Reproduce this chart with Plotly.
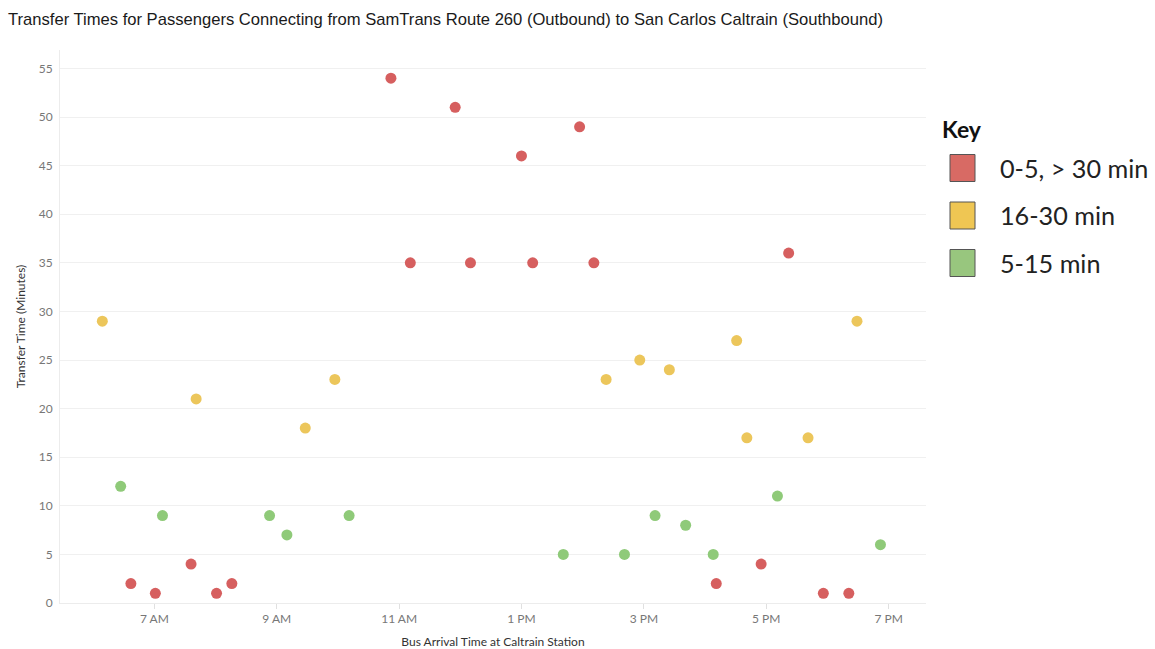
import plotly.graph_objects as go

# ---- data ----
categories = ["0-5, > 30 min", "16-30 min", "5-15 min"]
colors = ["#d65f5f", "#ecc65b", "#8fca79"]
legend_colors = ["#d86a64", "#efc653", "#98c67e"]

red_times = ["06:37", "07:01", "07:36", "08:01", "08:16", "10:52", "11:11", "11:55", "12:10",
             "13:00", "13:11", "13:57", "14:11", "16:11", "16:55", "17:22", "17:56", "18:21"]
red_values = [2, 1, 4, 1, 2, 54, 35, 51, 35, 46, 35, 49, 35, 2, 4, 36, 1, 1]

yellow_times = ["06:09", "07:41", "09:28", "09:57", "14:23", "14:56", "15:25", "16:31", "16:41",
                "17:41", "18:29"]
yellow_values = [29, 21, 18, 23, 23, 25, 24, 27, 17, 17, 29]

green_times = ["06:27", "07:08", "08:53", "09:10", "10:11", "13:41", "14:41", "15:11", "15:41",
               "16:08", "17:11", "18:52"]
green_values = [12, 9, 9, 7, 9, 5, 5, 9, 8, 5, 11, 6]

tick_times = ["07:00", "09:00", "11:00", "13:00", "15:00", "17:00", "19:00"]
tick_labels = ["7 AM", "9 AM", "11 AM", "1 PM", "3 PM", "5 PM", "7 PM"]
y_ticks = [0, 5, 10, 15, 20, 25, 30, 35, 40, 45, 50, 55]

DAY = "2024-01-01 "


def to_dt(ts):
    return [DAY + t for t in ts]


series = [(red_times, red_values), (yellow_times, yellow_values), (green_times, green_values)]

fig = go.Figure()
for (ts, vs), name, col in zip(series, categories, colors):
    fig.add_trace(go.Scatter(
        x=to_dt(ts), y=vs, mode="markers", name=name,
        marker=dict(color=col, size=11, line=dict(width=0)),
        showlegend=False,
    ))

# ---- layout geometry ----
W, H = 1155, 649
L, R, T, B = 60, 229, 50, 46
pw, ph = W - L - R, H - T - B


def px_to_paper_x(px):
    return (px - L) / pw


def px_to_paper_y(py):
    return (H - B - py) / ph


fig.update_layout(
    width=W, height=H,
    margin=dict(l=L, r=R, t=T, b=B, autoexpand=False),
    paper_bgcolor="white", plot_bgcolor="white",
    title=dict(
        text="Transfer Times for Passengers Connecting from SamTrans Route 260 (Outbound) to San Carlos Caltrain (Southbound)",
        x=8 / W, xanchor="left", xref="container",
        y=1 - 19 / H, yanchor="middle", yref="container",
        font=dict(family="Liberation Sans, Arial", size=16.6, color="#1a1a1a"),
    ),
    xaxis=dict(
        type="date", automargin=False,
        range=[DAY + "05:27:30", DAY + "19:36:40"],
        tickvals=to_dt(tick_times), ticktext=tick_labels,
        showgrid=False, zeroline=False,
        showline=True, linecolor="#ececec", linewidth=1,
        ticks="outside", ticklen=5, tickcolor="#e0e0e0",
        ticklabelstandoff=0,
        tickfont=dict(family="Lato", size=12, color="#777"),
        title=dict(text="Bus Arrival Time at Caltrain Station",
                   font=dict(family="Lato", size=12, color="#333"), standoff=26),
    ),
    yaxis=dict(
        automargin=False,
        range=[0, 56.9],
        tickvals=y_ticks,
        showgrid=True, gridcolor="#f0f0f0", gridwidth=1,
        zeroline=False,
        showline=True, linecolor="#ececec", linewidth=1,
        ticks="", ticklabelstandoff=4,
        tickfont=dict(family="Lato", size=12, color="#777"),
        title=dict(text="Transfer Time (Minutes)",
                   font=dict(family="Lato", size=12, color="#333"), standoff=10),
    ),
)

# ---- custom legend (key) ----
shapes = []
annotations = [dict(
    text="<b>Key</b>", x=px_to_paper_x(940), y=px_to_paper_y(129),
    xref="paper", yref="paper", xanchor="left", yanchor="middle",
    showarrow=False, font=dict(family="Lato", size=23, color="#111"),
)]
row_y = [168, 215.5, 263]
for name, col, cy in zip(categories, legend_colors, row_y):
    shapes.append(dict(
        type="rect", xref="paper", yref="paper",
        x0=px_to_paper_x(950), x1=px_to_paper_x(975),
        y0=px_to_paper_y(cy + 13.5), y1=px_to_paper_y(cy - 13.5),
        fillcolor=col, line=dict(color="#555", width=1),
    ))
    annotations.append(dict(
        text=name, x=px_to_paper_x(998), y=px_to_paper_y(cy),
        xref="paper", yref="paper", xanchor="left", yanchor="middle",
        showarrow=False, font=dict(family="Lato", size=25.2, color="#222"),
    ))

fig.update_layout(shapes=shapes, annotations=annotations)

fig.write_html(
    "out.html",
    config={"displayModeBar": False},
    post_script="document.body.style.margin='0px';document.body.style.overflow='hidden';",
)
